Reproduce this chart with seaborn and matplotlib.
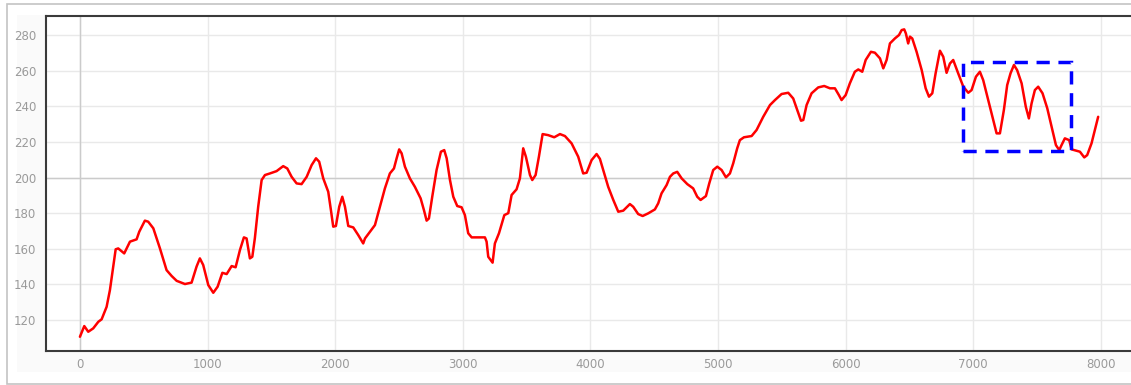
import matplotlib
matplotlib.use("Agg")
import matplotlib.pyplot as plt
from matplotlib.patches import Rectangle
import seaborn as sns
import pandas as pd

# Signal trace
x_vals = [0, 34, 65, 104, 144, 170, 209, 235, 253, 280, 300, 347, 392, 444, 465, 509, 535, 575,
          627, 679, 719, 758, 823, 875, 914, 940, 966, 1006, 1045, 1079, 1116, 1150, 1189, 1220,
          1254, 1285, 1306, 1332, 1351, 1371, 1397, 1424, 1450, 1489, 1541, 1593, 1625, 1659,
          1698, 1737, 1777, 1816, 1850, 1875, 1907, 1946, 1967, 1985, 2006, 2032, 2056, 2077,
          2103, 2142, 2181, 2220, 2234, 2273, 2312, 2351, 2390, 2429, 2461, 2482, 2502, 2521,
          2547, 2586, 2625, 2670, 2696, 2717, 2735, 2761, 2795, 2829, 2855, 2874, 2900, 2926,
          2957, 2991, 3017, 3043, 3070, 3122, 3174, 3187, 3200, 3234, 3252, 3284, 3326, 3357,
          3383, 3422, 3448, 3474, 3495, 3527, 3545, 3571, 3597, 3626, 3670, 3717, 3762, 3801,
          3853, 3905, 3944, 3971, 4010, 4049, 4075, 4114, 4140, 4180, 4219, 4258, 4310, 4336,
          4375, 4410, 4454, 4506, 4532, 4558, 4598, 4624, 4650, 4681, 4716, 4760, 4806, 4838,
          4864, 4906, 4932, 4963, 4995, 5029, 5063, 5094, 5120, 5151, 5172, 5204, 5264, 5303,
          5355, 5408, 5447, 5499, 5551, 5590, 5617, 5651, 5669, 5695, 5734, 5786, 5833, 5878,
          5917, 5948, 5969, 6001, 6034, 6073, 6100, 6131, 6158, 6199, 6230, 6270, 6296, 6322,
          6348, 6387, 6419, 6440, 6460, 6473, 6491, 6505, 6523, 6557, 6597, 6628, 6654, 6680,
          6706, 6740, 6766, 6792, 6818, 6844, 6883, 6923, 6962, 6988, 7022, 7053, 7079, 7118,
          7157, 7184, 7210, 7241, 7267, 7293, 7320, 7345, 7380, 7413, 7437, 7458, 7484, 7510,
          7544, 7581, 7615, 7649, 7675, 7693, 7719, 7753, 7772, 7811, 7837, 7871, 7894, 7928,
          7954, 7980]
y_vals = [110.6, 116.6, 113.4, 115.3, 119.0, 120.4, 127.4, 136.8, 146.0, 159.7, 160.2, 157.4,
          164.0, 165.3, 169.6, 175.8, 175.2, 171.5, 160.2, 148.0, 144.7, 142.0, 140.2, 141.0,
          150.0, 154.6, 150.9, 139.6, 135.3, 138.7, 146.5, 145.8, 150.3, 149.6, 159.3, 166.4,
          165.8, 154.6, 155.5, 166.0, 183.6, 198.6, 201.4, 202.3, 203.6, 206.4, 205.1, 200.4,
          196.7, 196.3, 200.4, 207.0, 210.8, 208.9, 199.5, 192.0, 181.7, 172.4, 172.8, 183.6,
          189.2, 183.6, 172.8, 172.0, 167.7, 163.0, 165.8, 169.6, 173.3, 183.6, 193.9, 202.3,
          205.1, 210.8, 215.8, 213.6, 206.1, 199.5, 194.8, 188.3, 181.7, 175.8, 177.0, 189.2,
          204.2, 214.5, 215.4, 210.8, 198.6, 189.2, 184.0, 183.3, 178.9, 168.7, 166.4, 166.4,
          166.4, 164.0, 155.5, 152.2, 163.0, 168.7, 178.9, 180.0, 190.2, 193.4, 199.5, 216.4,
          211.7, 201.4, 198.6, 201.4, 211.7, 224.4, 223.8, 222.6, 224.4, 223.3, 219.2, 211.7,
          202.3, 202.7, 209.8, 213.2, 210.5, 201.0, 194.8, 187.4, 180.8, 181.4, 185.1, 183.6,
          179.5, 178.4, 179.9, 182.1, 185.5, 191.1, 195.8, 200.4, 202.3, 203.2, 199.5, 196.3,
          193.9, 189.2, 187.4, 189.6, 196.7, 204.2, 206.1, 204.2, 200.1, 202.3, 208.0, 216.4,
          221.0, 222.6, 223.3, 226.7, 234.1, 240.7, 243.5, 246.9, 247.6, 244.4, 238.8, 231.9,
          232.3, 240.7, 247.3, 250.6, 251.4, 250.1, 250.1, 246.3, 243.5, 246.3, 252.9, 259.4,
          260.7, 259.4, 266.0, 270.6, 270.1, 266.9, 261.3, 266.0, 275.3, 278.1, 280.0, 282.8,
          283.2, 280.9, 275.3, 279.1, 278.1, 270.6, 260.3, 250.1, 245.4, 247.3, 258.5, 271.2,
          267.8, 258.8, 264.0, 266.0, 258.5, 251.0, 247.6, 249.1, 256.6, 259.4, 254.7, 243.5,
          232.3, 224.8, 224.8, 237.9, 251.9, 258.5, 263.2, 260.3, 252.9, 239.7, 233.2, 241.6,
          249.1, 251.0, 247.3, 238.9, 228.5, 218.2, 215.4, 218.2, 222.0, 221.0, 215.8, 215.0,
          214.5, 211.3, 212.6, 219.2, 226.7, 234.1]

x_ticks = [0, 1000, 2000, 3000, 4000, 5000, 6000, 7000, 8000]
y_ticks = [120, 140, 160, 180, 200, 220, 240, 260, 280]

# Highlighted window (x0, x1, y0, y1)
box_x = [6920, 7770]
box_y = [215, 265]

sns.set_style("white")
plt.rcParams["font.family"] = ["DejaVu Sans"]

W, H = 1131, 385
fig = plt.figure(figsize=(W / 100, H / 100), dpi=100)
fig.patch.set_facecolor("white")

# outer frame and inner panel, kept beneath the axes
fig.add_artist(Rectangle((7 / W, 1 - 384 / H), 1.2, (384 - 4) / H, transform=fig.transFigure,
                         facecolor="white", edgecolor="#c4c4c4", lw=1.2, zorder=-3))
fig.add_artist(Rectangle((17 / W, 1 - 372 / H), 1.2, (372 - 15) / H, transform=fig.transFigure,
                         facecolor="#fafafa", edgecolor="none", zorder=-2))

ax = fig.add_axes([46 / W, 1 - 351 / H, (1133 - 46) / W, (351 - 16) / H])
ax.set_zorder(2)
ax.set_facecolor("white")

df = pd.DataFrame({"x": x_vals, "y": y_vals})
sns.lineplot(data=df, x="x", y="y", ax=ax, color="#ff0000", lw=1.8, zorder=5,
             estimator=None, sort=False)

ax.add_patch(Rectangle((box_x[0], box_y[0]), box_x[1] - box_x[0], box_y[1] - box_y[0],
                       fill=False, edgecolor="#0000ff", lw=2.5, linestyle=(0, (3.8, 2.5)),
                       zorder=6))

ax.set_xlim(-266, 8253)
ax.set_ylim(102.6, 290.7)
ax.set_xticks(x_ticks)
ax.set_yticks(y_ticks)
ax.grid(True, color="#e9e9e9", lw=1.0, zorder=0)
ax.axvline(0, color="#cbcbcb", lw=1.0, zorder=1)
ax.axhline(200, color="#cbcbcb", lw=1.0, zorder=1)

ax.tick_params(axis="both", length=0, labelsize=8.5, labelcolor="#9a9a9a")
ax.tick_params(axis="y", pad=7)
ax.tick_params(axis="x", pad=5)
ax.set_xlabel("")
ax.set_ylabel("")

for side in ["left", "top", "bottom"]:
    ax.spines[side].set_color("#3a3a3a")
    ax.spines[side].set_linewidth(1.5)
ax.spines["right"].set_visible(False)

fig.savefig("out.png", dpi=100)
